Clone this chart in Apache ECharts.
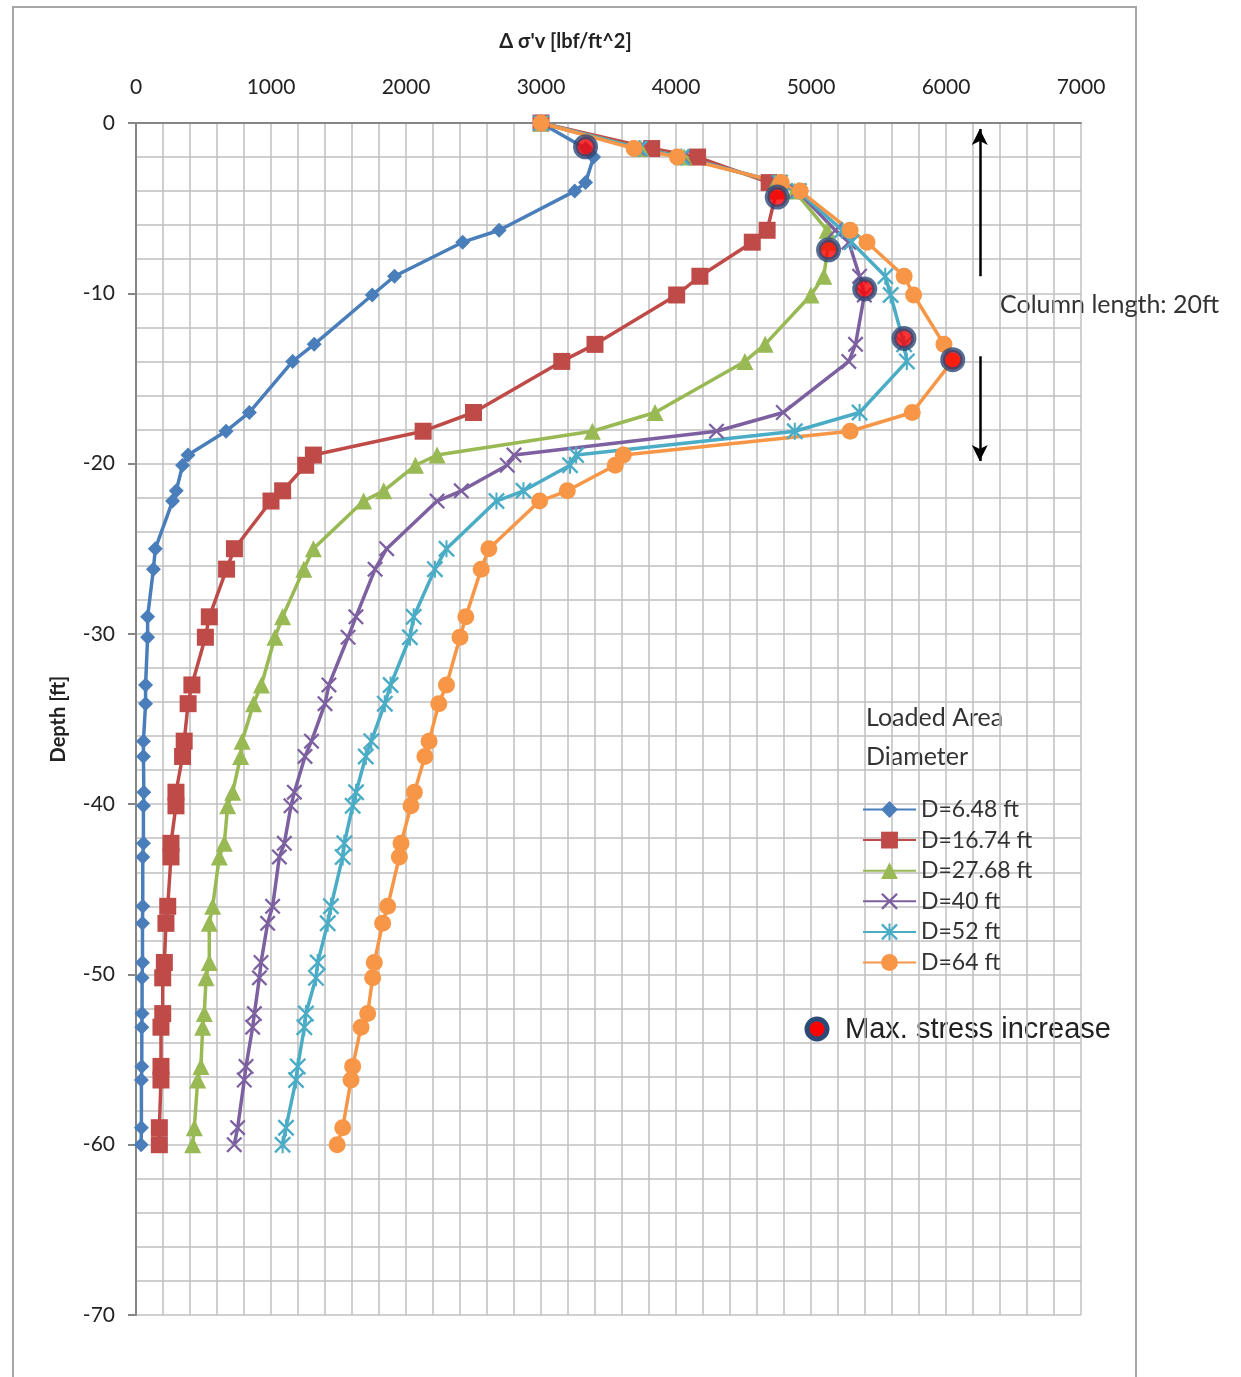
<!DOCTYPE html>
<html>
<head>
<meta charset="utf-8">
<title>Stress increase vs depth</title>
<script src="https://cdn.jsdelivr.net/npm/echarts@6/dist/echarts.min.js"></script>
<style>
  html, body { margin: 0; padding: 0; background: #fff; }
  #chart { width: 1241px; height: 1377px; }
</style>
</head>
<body>
<div id="chart"></div>
<script>
// depth of each reading [ft]
const depths = [0, -1.5, -2, -3.5, -4, -6.3, -7, -9, -10.1, -13, -14, -17, -18.1, -19.5, -20.1, -21.6, -22.2,
  -25, -26.2, -29, -30.2, -33, -34.1, -36.3, -37.2, -39.3, -40.1, -42.3, -43.1, -46, -47, -49.3, -50.2,
  -52.3, -53.1, -55.4, -56.2, -59, -60]

// stress increase [lbf/ft^2] per loaded area diameter
const d648 = [3000, 3330, 3390, 3330, 3250, 2690, 2420, 1915, 1750, 1320, 1160, 840, 667, 385, 345, 298, 271,
  143, 129, 86, 86, 71, 71, 55, 55, 58, 55, 55, 50, 50, 48, 48, 45, 45, 43, 43, 40, 40, 38]
const d1674 = [3000, 3820, 4160, 4690, 4745, 4675, 4565, 4177, 4005, 3400, 3154, 2500, 2127, 1314, 1257, 1086, 1000,
  729, 671, 543, 514, 414, 386, 357, 345, 296, 296, 259, 259, 235, 222, 210, 198, 198, 185, 185, 185, 173, 173]
const d2768 = [3000, 3740, 4060, 4740, 4880, 5120, 5130, 5095, 5000, 4660, 4510, 3845, 3380, 2230, 2070, 1835, 1686,
  1314, 1243, 1086, 1029, 929, 871, 786, 775, 716, 679, 654, 617, 568, 543, 543, 519, 506, 494, 481, 457, 432, 420]
const d40 = [3000, 3720, 4050, 4760, 4900, 5180, 5280, 5360, 5395, 5330, 5280, 4795, 4300, 2800, 2750, 2410, 2230,
  1857, 1771, 1629, 1571, 1429, 1400, 1300, 1252, 1173, 1148, 1099, 1062, 1012, 975, 926, 914, 877, 864, 815, 802, 753, 728]
const d52 = [3000, 3730, 4040, 4770, 4910, 5230, 5300, 5550, 5590, 5690, 5710, 5360, 4880, 3260, 3215, 2870, 2670,
  2300, 2214, 2057, 2029, 1886, 1843, 1743, 1702, 1630, 1605, 1543, 1531, 1444, 1420, 1346, 1333, 1259, 1247, 1198, 1185, 1111, 1086]
const d64 = [3000, 3690, 4010, 4780, 4920, 5290, 5415, 5690, 5760, 5985, 6045, 5750, 5290, 3610, 3550, 3195, 2990,
  2614, 2557, 2443, 2400, 2300, 2243, 2171, 2140, 2062, 2037, 1963, 1951, 1864, 1827, 1765, 1753, 1716, 1667, 1605, 1593, 1531, 1490]

// hand-placed "max. stress increase" dots [stress, depth]
const maxStressX = [3330, 4750, 5130, 5398, 5688, 6050]
const maxStressY = [-1.4, -4.35, -7.45, -9.75, -12.65, -13.9]

const seriesNames = ['D=6.48 ft', 'D=16.74 ft', 'D=27.68 ft', 'D=40 ft', 'D=52 ft', 'D=64 ft']

const xSymbol = 'path://M0,1L1,0L5,4L9,0L10,1L6,5L10,9L9,10L5,6L1,10L0,9L4,5Z'
const starSymbol = 'path://M0,1L1,0L5,4L9,0L10,1L6,5L10,9L9,10L5,6L1,10L0,9L4,5ZM4.4,0L5.6,0L5.6,10L4.4,10Z'

const styles = [
  { color: '#4a7ebb', symbol: 'diamond', size: 15 },
  { color: '#be4b48', symbol: 'rect', size: 17 },
  { color: '#98b954', symbol: 'triangle', size: 17 },
  { color: '#7d60a0', symbol: xSymbol, size: 16 },
  { color: '#4bacc6', symbol: starSymbol, size: 17 },
  { color: '#f79646', symbol: 'circle', size: 17 }
]

const allValues = [d648, d1674, d2768, d40, d52, d64]

const font = 'Lato'
const gridColor = '#c0c0c0'
const axisColor = '#868686'

const lineSeries = allValues.map((vals, i) => ({
  name: seriesNames[i],
  type: 'line',
  symbol: styles[i].symbol,
  symbolSize: styles[i].size,
  smooth: false,
  color: styles[i].color,
  lineStyle: { width: 3.5, color: styles[i].color },
  itemStyle: { color: styles[i].color },
  emphasis: { disabled: true },
  data: depths.map((d, j) => [vals[j], d])
}))

const maxSeries = {
  name: 'max',
  type: 'scatter',
  symbol: 'circle',
  symbolSize: 20,
  z: 10,
  itemStyle: { color: '#ff0000', borderColor: '#2c4a78', borderWidth: 5 },
  emphasis: { disabled: true },
  data: maxStressX.map((x, i) => [x, maxStressY[i]]),
  markLine: {
    silent: true,
    symbol: ['none', 'arrow'],
    symbolSize: [12, 16],
    label: { show: false },
    lineStyle: { color: '#000', width: 2.5, type: 'solid' },
    data: [
      [{ coord: [6250, -9.0] }, { coord: [6250, -0.35] }],
      [{ coord: [6250, -13.7] }, { coord: [6250, -19.85] }]
    ]
  }
}

const option = {
  backgroundColor: '#fff',
  animation: false,
  grid: { left: 136, top: 123, width: 945, height: 1192 },
  legend: {
    data: seriesNames,
    orient: 'vertical',
    left: 862,
    top: 798,
    padding: 0,
    itemWidth: 53,
    itemHeight: 21,
    itemGap: 7.6,
    textStyle: { fontFamily: font, fontSize: 23, lineHeight: 23, color: '#333' }
  },
  xAxis: {
    type: 'value',
    position: 'top',
    min: 0,
    max: 7000,
    interval: 1000,
    name: "Δ σ'v [lbf/ft^2]",
    nameLocation: 'middle',
    nameGap: 71,
    nameTextStyle: { fontFamily: font, fontSize: 20, fontWeight: 'bold', color: '#222', padding: [0, 86, 0, 0] },
    axisLine: { show: true, lineStyle: { color: axisColor, width: 2 } },
    axisTick: { show: false },
    axisLabel: { fontFamily: font, fontSize: 21, color: '#222', margin: 25, formatter: v => String(v) },
    splitLine: { show: true, lineStyle: { color: gridColor, width: 1.5 } },
    minorTick: { show: false, splitNumber: 5 },
    minorSplitLine: { show: true, lineStyle: { color: gridColor, width: 1.5 } }
  },
  yAxis: {
    type: 'value',
    min: -70,
    max: 0,
    interval: 10,
    name: 'Depth [ft]',
    nameLocation: 'middle',
    nameGap: 67,
    nameTextStyle: { fontFamily: font, fontSize: 20, fontWeight: 'bold', color: '#222' },
    axisLine: { show: true, lineStyle: { color: axisColor, width: 2 } },
    axisTick: { show: true, length: 8, lineStyle: { color: axisColor, width: 2 } },
    axisLabel: { fontFamily: font, fontSize: 21, color: '#222', margin: 21, formatter: v => String(v) },
    splitLine: { show: true, lineStyle: { color: gridColor, width: 1.5 } },
    minorTick: { show: false, splitNumber: 5 },
    minorSplitLine: { show: true, lineStyle: { color: gridColor, width: 1.5 } }
  },
  graphic: [
    {
      type: 'rect', silent: true, z: -10,
      shape: { x: 13, y: 7, width: 1123, height: 1420 },
      style: { fill: 'none', stroke: '#a6a6a6', lineWidth: 2 }
    },
    {
      type: 'text', x: 866, y: 718,
      style: { text: 'Loaded Area', font: '25px Lato', fill: '#333', verticalAlign: 'middle' }
    },
    {
      type: 'text', x: 866, y: 757,
      style: { text: 'Diameter', font: '25px Lato', fill: '#333', verticalAlign: 'middle' }
    },
    {
      type: 'text', x: 1000, y: 305,
      style: { text: 'Column length: 20ft', font: '25px Lato', fill: '#333', verticalAlign: 'middle' }
    },
    {
      type: 'circle', z: 20,
      shape: { cx: 817, cy: 1029, r: 10 },
      style: { fill: '#ff0000', stroke: '#2c4a78', lineWidth: 5 }
    },
    {
      type: 'text', x: 845, y: 1030,
      style: { text: 'Max. stress increase', font: '29px "Liberation Sans"', fill: '#222', verticalAlign: 'middle' }
    }
  ],
  series: [...lineSeries, maxSeries]
}

const chart = echarts.init(document.getElementById('chart'), null, { renderer: 'canvas' })
chart.setOption(option)
</script>
</body>
</html>
